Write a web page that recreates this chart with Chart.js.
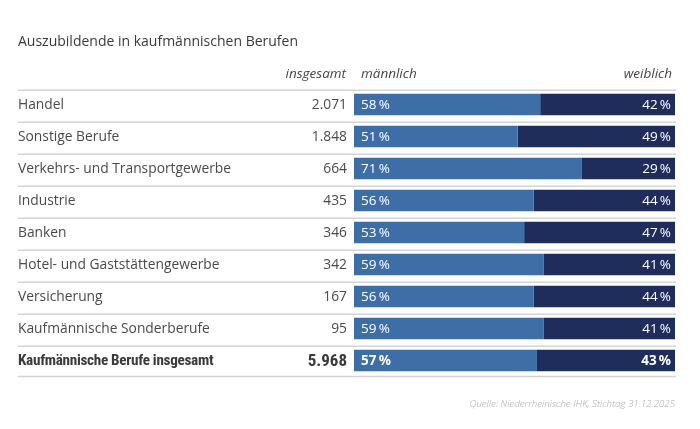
<!DOCTYPE html>
<html>
<head>
<meta charset="utf-8">
<script src="https://cdn.jsdelivr.net/npm/chart.js@4"></script>
<style>
html,body{margin:0;padding:0;background:#fff;}
#c{display:block;}
</style>
</head>
<body>
<canvas id="c" width="700" height="429"></canvas>
<script>
const categories = ["Handel","Sonstige Berufe","Verkehrs- und Transportgewerbe","Industrie","Banken","Hotel- und Gaststättengewerbe","Versicherung","Kaufmännische Sonderberufe","Kaufmännische Berufe insgesamt"];
const totals = [2071,1848,664,435,346,342,167,95,5968];
const male = [58,51,71,56,53,59,56,59,57];
const female = [42,49,29,44,47,41,44,41,43];
const headers = ["insgesamt","männlich","weiblich"];
const titleText = "Auszubildende in kaufmännischen Berufen";
const sourceText = "Quelle: Niederrheinische IHK, Stichtag 31.12.2025";

const MALE_COLOR = "#3d6ea6";
const FEMALE_COLOR = "#1f2d5b";
const TEXT = "#4a4a4a";
const LABEL_FONT = "'Open Sans', 'Noto Sans', sans-serif";
const BOLD_FONT = "'Roboto Condensed', 'Liberation Sans Narrow', 'DejaVu Sans Condensed', sans-serif";
const ITALIC_FONT = "'Open Sans', Lato, sans-serif";
const PCT_FONT = "'Open Sans', Lato, sans-serif";

const fmt = n => n.toLocaleString('de-DE');

const tablePlugin = {
  id: 'table',
  afterDatasetsDraw(chart) {
    const ctx = chart.ctx;
    const y = chart.scales.y, x = chart.scales.x;
    const last = categories.length - 1;
    ctx.save();
    // separators
    ctx.strokeStyle = "#d4d4d4";
    ctx.lineWidth = 1.5;
    for (let i = 0; i <= categories.length; i++) {
      const py = i < categories.length ? y.getPixelForValue(i) - 14.3 : y.getPixelForValue(last) + 16;
      ctx.beginPath();
      ctx.moveTo(18, py);
      ctx.lineTo(x.getPixelForValue(100) + 1, py);
      ctx.stroke();
    }
    // title
    ctx.fillStyle = "#3a3a3a";
    ctx.textBaseline = "middle";
    ctx.textAlign = "left";
    ctx.font = "400 14px " + LABEL_FONT;
    ctx.fillText(titleText, 18, 42);
    // headers
    ctx.font = "italic 400 13.5px " + ITALIC_FONT;
    ctx.fillStyle = "#444";
    ctx.textAlign = "right";
    ctx.fillText(headers[0], 346, 74);
    ctx.textAlign = "left";
    ctx.fillText(headers[1], x.getPixelForValue(0) + 7, 74);
    ctx.textAlign = "right";
    ctx.fillText(headers[2], x.getPixelForValue(100) - 3, 74);
    // rows
    categories.forEach((cat, i) => {
      const py = y.getPixelForValue(i) + 0.8;
      const bold = i === last;
      ctx.fillStyle = bold ? "#3a3a3a" : TEXT;
      ctx.textAlign = "left";
      if (bold) {
        ctx.font = "700 15.2px " + BOLD_FONT;
        ctx.letterSpacing = "-0.3px";
      } else {
        ctx.font = "400 13.8px " + LABEL_FONT;
        ctx.letterSpacing = "0px";
      }
      ctx.fillText(cat, 18, py);
      ctx.letterSpacing = "0px";
      if (bold) ctx.font = "700 17px " + BOLD_FONT;
      ctx.textAlign = "right";
      ctx.fillText(fmt(totals[i]), 347, py);
      ctx.fillStyle = "#fff";
      ctx.font = bold ? "700 13.5px " + PCT_FONT : "400 13.5px " + PCT_FONT;
      ctx.textAlign = "left";
      ctx.fillText(male[i] + "\u2009%", x.getPixelForValue(0) + 7, py);
      ctx.textAlign = "right";
      ctx.fillText(female[i] + "\u2009%", x.getPixelForValue(100) - 4, py);
    });
    // source
    ctx.fillStyle = "#a8a8a8";
    ctx.font = "italic 300 9.7px " + LABEL_FONT;
    ctx.textAlign = "right";
    ctx.fillText(sourceText, 675, 404);
    ctx.restore();
  }
};

new Chart(document.getElementById('c'), {
  type: 'bar',
  data: {
    labels: categories,
    datasets: [
      { label: headers[1], data: male, backgroundColor: MALE_COLOR, borderWidth: 0, barPercentage: 0.67, categoryPercentage: 1 },
      { label: headers[2], data: female, backgroundColor: FEMALE_COLOR, borderWidth: 0, barPercentage: 0.67, categoryPercentage: 1 }
    ]
  },
  options: {
    indexAxis: 'y',
    responsive: false,
    animation: false,
    layout: { padding: { left: 354, right: 25, top: 88.5, bottom: 52.5 } },
    scales: {
      x: { stacked: true, min: 0, max: 100, display: false },
      y: { stacked: true, display: false }
    },
    plugins: { legend: { display: false }, tooltip: { enabled: false }, title: { display: false } }
  },
  plugins: [tablePlugin]
});
</script>
</body>
</html>
